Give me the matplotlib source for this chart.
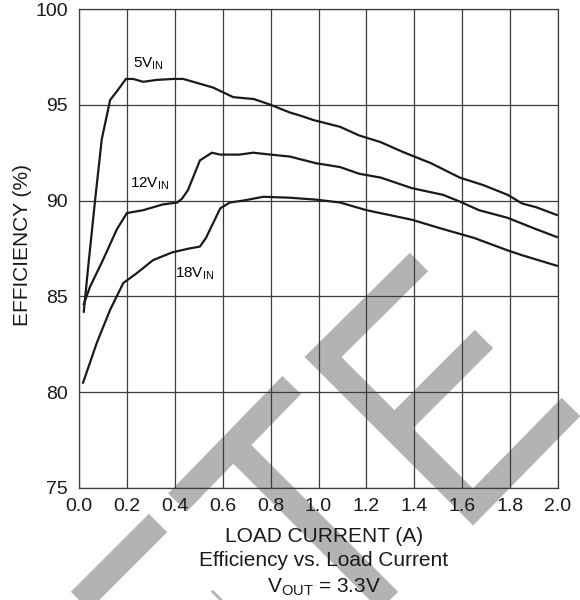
import numpy as np
import matplotlib
matplotlib.use("Agg")
import matplotlib.pyplot as plt
from matplotlib.lines import Line2D

plt.rcParams['font.family'] = ['Liberation Sans', 'DejaVu Sans']
plt.rcParams['mathtext.fontset'] = 'custom'
plt.rcParams['mathtext.rm'] = 'Liberation Sans'

# DATA

i_5v = [0.02, 0.038, 0.067, 0.095, 0.13, 0.158, 0.196, 0.226, 0.268, 0.325, 0.394,
        0.435, 0.477, 0.56, 0.644, 0.73, 0.80, 0.88, 0.92, 0.98, 1.09, 1.17, 1.26,
        1.35, 1.47, 1.59, 1.69, 1.79, 1.85, 1.91, 1.995]
eff_5v = [84.2, 86.5, 90.0, 93.2, 95.25, 95.7, 96.35, 96.35, 96.2, 96.3, 96.35,
          96.35, 96.2, 95.9, 95.4, 95.3, 95.0, 94.6, 94.45, 94.2, 93.85, 93.4, 93.05,
          92.55, 91.95, 91.2, 90.8, 90.3, 89.85, 89.65, 89.25]

i_12v = [0.02, 0.046, 0.10, 0.158, 0.2, 0.268, 0.35, 0.41, 0.43, 0.455, 0.505, 0.555,
         0.59, 0.67, 0.727, 0.80, 0.88, 0.99, 1.09, 1.17, 1.26, 1.39, 1.52, 1.59,
         1.67, 1.79, 1.90, 1.995]
eff_12v = [84.6, 85.5, 86.9, 88.5, 89.35, 89.5, 89.8, 89.9, 90.1, 90.55, 92.1, 92.5,
           92.4, 92.4, 92.5, 92.4, 92.3, 91.95, 91.75, 91.4, 91.2, 90.65, 90.3, 89.95,
           89.5, 89.1, 88.55, 88.1]

i_18v = [0.017, 0.075, 0.13, 0.185, 0.24, 0.31, 0.39, 0.46, 0.505, 0.53, 0.59, 0.63,
         0.685, 0.77, 0.88, 0.99, 1.09, 1.20, 1.39, 1.51, 1.65, 1.79, 1.85, 1.995]
eff_18v = [80.5, 82.6, 84.3, 85.7, 86.2, 86.9, 87.3, 87.5, 87.6, 88.05, 89.6, 89.9,
           90.0, 90.2, 90.15, 90.05, 89.9, 89.5, 89.0, 88.55, 88.05, 87.4, 87.15, 86.6]

x_ticks = [0.0, 0.2, 0.4, 0.6, 0.8, 1.0, 1.2, 1.4, 1.6, 1.8, 2.0]
y_ticks = [75, 80, 85, 90, 95, 100]

W, H = 580, 600
fig = plt.figure(figsize=(W / 100, H / 100), dpi=100)
ax = fig.add_axes([79 / W, 1 - 488 / H, 479 / W, 479 / H])
ax.set_facecolor('none')

grid_col = '#3c3c3c'
for x in x_ticks:
    ax.axvline(x, color=grid_col, lw=0.9, zorder=1)
for y in y_ticks:
    ax.axhline(y, color=grid_col, lw=0.9, zorder=1)

for xs, ys in [(i_5v, eff_5v), (i_12v, eff_12v), (i_18v, eff_18v)]:
    ax.plot(xs, ys, color='#1a1a1a', lw=1.6, zorder=3, solid_joinstyle='round')

ax.set_xlim(0, 2.0)
ax.set_ylim(75, 100)
ax.set_xticks(x_ticks)
ax.set_xticklabels([f'{v:.1f}' for v in x_ticks])
ax.set_yticks(y_ticks)
ax.tick_params(length=0, labelsize=14, colors='#1a1a1a')
ax.tick_params(axis='x', pad=7)
ax.tick_params(axis='y', pad=8)
for s in ax.spines.values():
    s.set_color(grid_col)
    s.set_linewidth(0.9)

ax.text(0.227, 96.96, r'5V$_\mathregular{IN}$', fontsize=11, ha='left', va='baseline')
ax.text(0.213, 90.69, r'12V$_\mathregular{IN}$', fontsize=11, ha='left', va='baseline')
ax.text(0.401, 85.98, r'18V$_\mathregular{IN}$', fontsize=11, ha='left', va='baseline')

fig.text(23 / W, 1 - 245 / H, 'EFFICIENCY (%)', rotation=90, fontsize=15,
         ha='center', va='center', color='#1a1a1a')
fig.text(324 / W, 1 - 537 / H, 'LOAD CURRENT (A)', fontsize=15,
         ha='center', va='center', color='#1a1a1a')
fig.text(324 / W, 1 - 561 / H, 'Efficiency vs. Load Current', fontsize=15,
         ha='center', va='center', color='#1a1a1a')
fig.text(324 / W, 1 - 587 / H, r'V$_\mathregular{OUT}$ = 3.3V', fontsize=15,
         ha='center', va='center', color='#1a1a1a')

# watermark strokes behind the chart (pixel positions in the 580x600 image)
watermark = [
    [(419, 262), (323, 357), (473, 507), (571, 407)],
    [(394.5, 428.5), (484, 339)],
    [(177.5, 502.5), (291.7, 385)],
    [(233, 445), (400, 612)],
    [(158, 523), (50, 631)],
    [(222, 599), (180, 641)],
]
for stroke in watermark:
    px = [p[0] / W for p in stroke]
    py = [1 - p[1] / H for p in stroke]
    fig.add_artist(Line2D(px, py, transform=fig.transFigure, color='#b3b3b3',
                          lw=26 * 0.72, solid_capstyle='butt',
                          solid_joinstyle='miter', zorder=-1))

fig.savefig('out.png', dpi=100)
